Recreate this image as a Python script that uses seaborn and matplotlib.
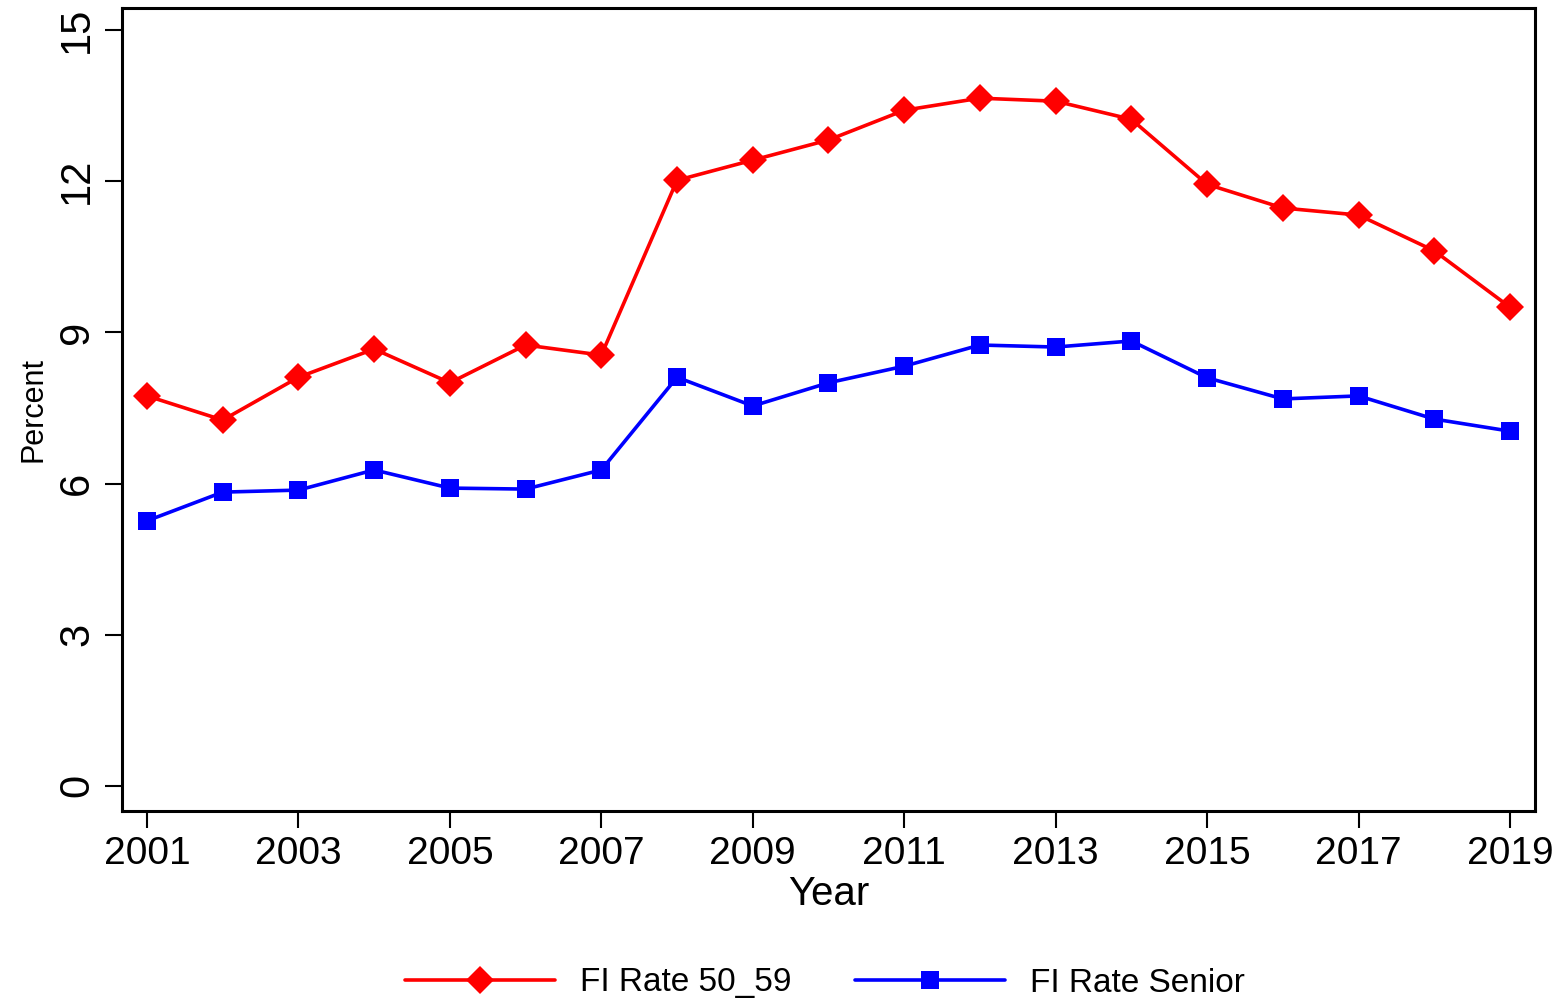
import matplotlib
matplotlib.use("Agg")
import matplotlib.pyplot as plt
import seaborn as sns
import pandas as pd

years = list(range(2001, 2020))
rate_50_59 = [7.74, 7.26, 8.11, 8.67, 8.00, 8.75, 8.55, 12.02, 12.42, 12.82,
              13.41, 13.65, 13.59, 13.23, 11.94, 11.47, 11.33, 10.62, 9.50]
rate_senior = [5.26, 5.83, 5.87, 6.27, 5.91, 5.89, 6.27, 8.11, 7.54, 8.00,
               8.33, 8.75, 8.71, 8.83, 8.10, 7.68, 7.74, 7.28, 7.04]
series_names = ["FI Rate 50_59", "FI Rate Senior"]
x_ticks = list(range(2001, 2020, 2))
y_ticks = [0, 3, 6, 9, 12, 15]

df = pd.concat([
    pd.DataFrame({"Year": years, "Percent": rate_50_59, "Series": series_names[0]}),
    pd.DataFrame({"Year": years, "Percent": rate_senior, "Series": series_names[1]}),
])

sns.set_style("white")
plt.rcParams["font.family"] = ["Liberation Sans", "DejaVu Sans"]
plt.rcParams["text.color"] = "black"
plt.rcParams["axes.labelcolor"] = "black"
plt.rcParams["xtick.color"] = "black"
plt.rcParams["ytick.color"] = "black"

fig = plt.figure(figsize=(15.62, 10), dpi=100)
ax = fig.add_axes([0.0781, 0.189, 0.9046, 0.803])

sns.lineplot(data=df, x="Year", y="Percent", hue="Series", style="Series",
             palette={series_names[0]: "#ff0000", series_names[1]: "#0000ff"},
             markers={series_names[0]: "D", series_names[1]: "s"},
             dashes=False, linewidth=2.6, markersize=14, markeredgewidth=0,
             ax=ax, legend=False)
# squares slightly smaller than diamonds
for line in ax.lines:
    if line.get_marker() == "s":
        line.set_markersize(13)

ax.set_xlim(2000.67, 2019.33)
ax.set_ylim(-0.5, 15.44)
ax.set_xticks(x_ticks)
ax.set_xticklabels([str(t) for t in x_ticks], fontsize=28)
ax.set_yticks(y_ticks)
ax.set_yticklabels([str(t) for t in y_ticks], fontsize=30, rotation=90, va="center")
ax.tick_params(axis="both", direction="out", length=12, width=1.5, color="black",
               labelcolor="black", bottom=True, left=True, pad=6)
for s in ax.spines.values():
    s.set_color("black")
    s.set_linewidth(2.2)
ax.set_xlabel("Year", fontsize=29, labelpad=2, color="black")
ax.set_ylabel("Percent", fontsize=22, labelpad=6, color="black")

handles = [
    plt.Line2D([], [], color="#ff0000", lw=2.6, marker="D", markersize=14, markeredgewidth=0),
    plt.Line2D([], [], color="#0000ff", lw=2.6, marker="s", markersize=13, markeredgewidth=0),
]
leg = fig.legend(handles, series_names, loc="center", bbox_to_anchor=(0.528, 0.017),
                 ncol=2, frameon=False, fontsize=24, handlelength=4.5,
                 handletextpad=0.75, columnspacing=1.9, borderpad=0)
for t in leg.get_texts():
    t.set_color("black")

fig.savefig("out.png", dpi=100)
